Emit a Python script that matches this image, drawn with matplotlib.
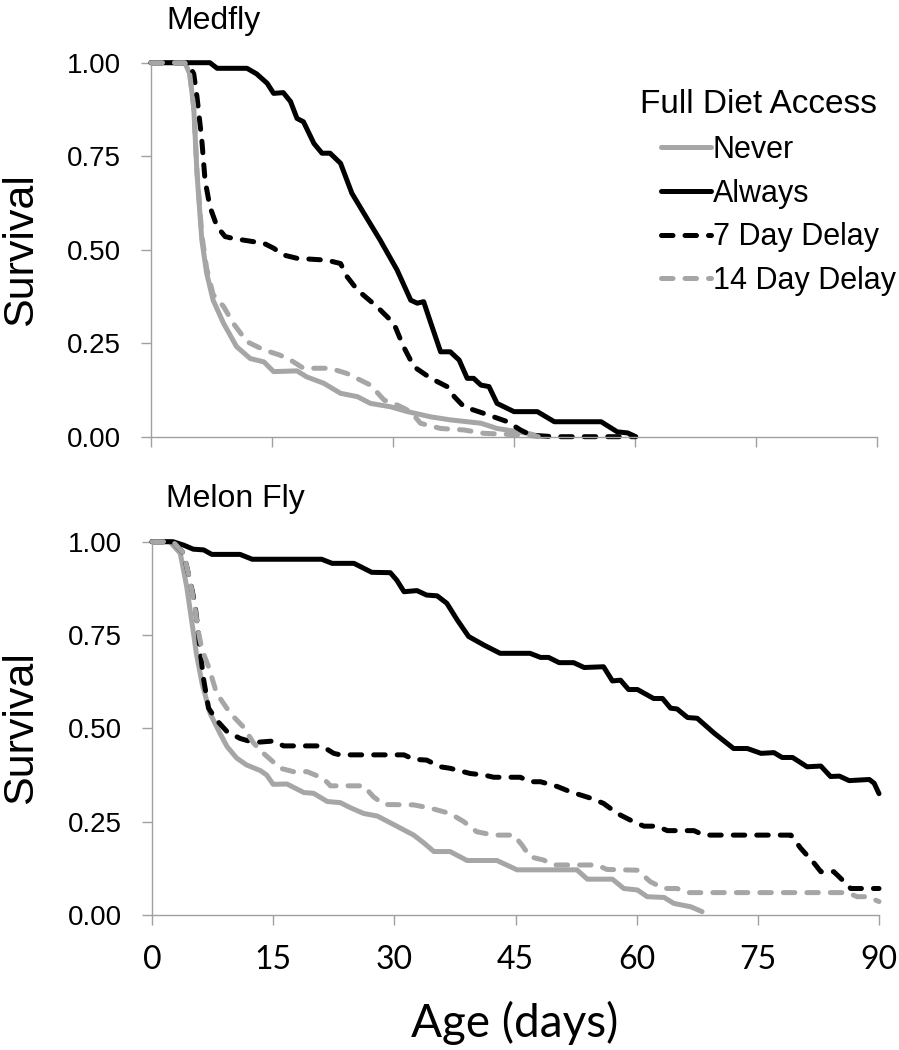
import matplotlib
matplotlib.use('Agg')
import matplotlib.pyplot as plt

# --- data ---
# Medfly
med_always_days = [0, 7.3, 8.2, 11.9, 13.1, 14.4, 15.2, 16.4, 17.3, 18.1, 18.9, 20.2, 21.2, 22.2, 23.5, 24.9,
                   26.4, 28.4, 30.5, 32.2, 33.0, 33.8, 34.7, 35.9, 37.1, 38.2, 39.2, 40.0, 40.9, 41.9, 42.9,
                   45.0, 47.9, 50.0, 55.8, 57.8, 59.1, 60.1]
med_always_surv = [1.0, 1.0, 0.985, 0.985, 0.97, 0.945, 0.918, 0.92, 0.896, 0.851, 0.842, 0.784, 0.758, 0.758,
                   0.731, 0.651, 0.597, 0.526, 0.446, 0.365, 0.357, 0.361, 0.303, 0.227, 0.227, 0.205, 0.156,
                   0.156, 0.138, 0.134, 0.089, 0.067, 0.067, 0.04, 0.04, 0.013, 0.01, 0.0]

med_d7_days = [0, 4.6, 5.3, 5.7, 6.3, 6.7, 7.3, 8.2, 9.2, 10.2, 14.0, 15.2, 16.4, 18.1, 21.8, 23.5, 24.3, 25.6,
               28.0, 30.1, 31.3, 32.6, 34.7, 36.7, 37.6, 38.8, 41.3, 44.2, 45.8, 47.1, 50.0, 60.0]
med_d7_surv = [1.0, 1.0, 0.97, 0.909, 0.793, 0.686, 0.615, 0.561, 0.535, 0.53, 0.517, 0.504, 0.486, 0.477,
               0.472, 0.463, 0.428, 0.392, 0.348, 0.303, 0.241, 0.187, 0.156, 0.134, 0.107, 0.080, 0.062,
               0.040, 0.018, 0.004, 0.0, 0.0]

med_never_days = [0, 4.2, 4.8, 5.3, 5.7, 6.3, 6.9, 7.7, 9.0, 10.6, 12.3, 14.0, 15.2, 18.1, 19.3, 21.4, 23.5,
                  25.6, 27.2, 29.7, 31.8, 34.7, 37.1, 40.9, 42.9, 46.7, 47.5]
med_never_surv = [1.0, 1.0, 0.97, 0.88, 0.704, 0.526, 0.437, 0.365, 0.303, 0.241, 0.209, 0.2, 0.174, 0.176,
                  0.16, 0.143, 0.116, 0.107, 0.089, 0.08, 0.067, 0.053, 0.045, 0.036, 0.022, 0.009, 0.005]

med_d14_days = [0, 4.2, 4.8, 5.3, 5.7, 6.3, 6.9, 7.7, 9.0, 10.2, 11.9, 14.0, 16.0, 17.3, 18.9, 22.2, 24.3,
                27.2, 28.9, 30.5, 32.2, 33.4, 35.9, 38.8, 41.3, 46.7, 48.0]
med_d14_surv = [1.0, 1.0, 0.97, 0.88, 0.71, 0.54, 0.45, 0.38, 0.348, 0.303, 0.254, 0.232, 0.218, 0.205,
                0.183, 0.183, 0.169, 0.138, 0.098, 0.085, 0.067, 0.036, 0.022, 0.018, 0.009, 0.004, 0.0]

# Melon fly
mel_always_days = [0, 2.6, 3.9, 5.1, 6.4, 7.4, 10.9, 12.4, 21.0, 22.3, 25.0, 27.2, 29.5, 30.3, 31.2, 32.8,
                   34.0, 35.3, 36.5, 37.8, 39.2, 41.1, 43.1, 46.8, 48.1, 49.1, 50.4, 52.2, 53.5, 55.9, 57.0,
                   58.0, 59.0, 60.1, 62.1, 63.2, 64.2, 65.0, 66.3, 67.5, 69.6, 72.0, 73.7, 75.4, 77.0, 78.0,
                   79.3, 81.1, 82.8, 84.0, 85.1, 86.3, 88.8, 89.4, 90.0]
mel_always_surv = [1.0, 1.0, 0.991, 0.98, 0.978, 0.966, 0.966, 0.953, 0.953, 0.942, 0.942, 0.918, 0.917,
                   0.897, 0.866, 0.869, 0.857, 0.855, 0.835, 0.79, 0.746, 0.723, 0.701, 0.701, 0.69, 0.69,
                   0.676, 0.676, 0.663, 0.665, 0.627, 0.629, 0.604, 0.604, 0.58, 0.58, 0.554, 0.552, 0.529,
                   0.527, 0.487, 0.446, 0.446, 0.433, 0.435, 0.422, 0.422, 0.397, 0.399, 0.371, 0.372, 0.36,
                   0.363, 0.353, 0.325]

mel_d7_days = [0, 2.6, 3.9, 4.7, 5.3, 5.7, 6.0, 6.4, 7.0, 8.0, 9.3, 10.9, 12.6, 15.0, 16.3, 21.0, 22.5, 23.3,
               31.2, 32.4, 34.0, 35.7, 36.9, 39.4, 41.1, 42.3, 45.6, 46.8, 48.1, 50.2, 51.8, 54.3, 55.9,
               57.6, 59.6, 60.9, 62.5, 63.8, 67.1, 68.3, 79.1, 80.3, 82.0, 82.8, 84.4, 85.7, 86.5, 90.0]
mel_d7_surv = [1.0, 1.0, 0.969, 0.897, 0.835, 0.763, 0.70, 0.63, 0.554, 0.522, 0.491, 0.473, 0.462, 0.466,
               0.453, 0.453, 0.433, 0.429, 0.429, 0.417, 0.415, 0.397, 0.393, 0.379, 0.375, 0.369, 0.369,
               0.357, 0.357, 0.344, 0.33, 0.313, 0.299, 0.272, 0.25, 0.238, 0.238, 0.226, 0.226, 0.214,
               0.214, 0.179, 0.138, 0.116, 0.116, 0.089, 0.071, 0.071]

mel_never_days = [0, 2.2, 3.5, 4.3, 4.9, 5.5, 6.2, 7.2, 8.4, 9.3, 10.5, 11.7, 13.4, 14.2, 15.0, 16.7, 18.8,
                  20.0, 21.7, 23.3, 24.5, 26.2, 27.9, 30.3, 32.4, 33.6, 34.9, 36.9, 39.0, 42.7, 45.2, 52.6,
                  53.9, 57.0, 58.4, 60.1, 61.3, 63.4, 64.6, 66.7, 68.1]
mel_never_surv = [1.0, 1.0, 0.969, 0.879, 0.79, 0.70, 0.62, 0.54, 0.487, 0.451, 0.42, 0.402, 0.387, 0.375,
                  0.35, 0.351, 0.328, 0.326, 0.304, 0.301, 0.288, 0.272, 0.265, 0.238, 0.214, 0.194, 0.17,
                  0.17, 0.146, 0.146, 0.121, 0.121, 0.096, 0.096, 0.071, 0.067, 0.049, 0.047, 0.031, 0.022,
                  0.009]

mel_d14_days = [0, 2.6, 3.9, 4.7, 5.3, 5.7, 6.2, 7.0, 8.0, 9.7, 11.3, 12.6, 13.8, 15.9, 17.5, 19.2, 21.2,
                22.1, 26.2, 27.4, 28.7, 32.4, 34.5, 36.9, 38.6, 40.2, 42.3, 44.8, 45.8, 46.8, 48.5, 49.7,
                55.1, 56.3, 60.1, 61.7, 63.4, 65.0, 66.3, 86.1, 87.3, 88.6, 90.0]
mel_d14_surv = [1.0, 1.0, 0.969, 0.897, 0.826, 0.763, 0.71, 0.665, 0.594, 0.54, 0.504, 0.46, 0.433, 0.393,
                0.384, 0.384, 0.366, 0.346, 0.346, 0.317, 0.296, 0.295, 0.286, 0.272, 0.25, 0.223, 0.214,
                0.214, 0.1875, 0.156, 0.147, 0.134, 0.134, 0.122, 0.12, 0.089, 0.071, 0.071, 0.06, 0.06,
                0.049, 0.049, 0.036]

labels = ['Never', 'Always', '7 Day Delay', '14 Day Delay']
x_ticks = [0, 15, 30, 45, 60, 75, 90]
y_ticks = [0.0, 0.25, 0.5, 0.75, 1.0]
y_tick_labels = ['0.00', '0.25', '0.50', '0.75', '1.00']

GRAY = '#a6a6a6'
AXIS = '#a0a0a0'
LW = 3.6
DASH = (0, (2.3, 2.4))
styles = [dict(color=GRAY, ls='-'), dict(color='black', ls='-'),
          dict(color='black', ls=DASH), dict(color=GRAY, ls=DASH)]

fig = plt.figure(figsize=(8.99, 10.5), dpi=100)
ax1 = fig.add_axes([151 / 899, 1 - 436.7 / 1050, 726 / 899, 374 / 1050])
ax2 = fig.add_axes([152 / 899, 1 - 915 / 1050, 727 / 899, 373.3 / 1050])

top = [(med_never_days, med_never_surv), (med_always_days, med_always_surv),
       (med_d7_days, med_d7_surv), (med_d14_days, med_d14_surv)]
bot = [(mel_never_days, mel_never_surv), (mel_always_days, mel_always_surv),
       (mel_d7_days, mel_d7_surv), (mel_d14_days, mel_d14_surv)]

for ax, series in [(ax1, top), (ax2, bot)]:
    for (d, s), st, lab in zip(series, styles, labels):
        ax.plot(d, s, color=st['color'], linestyle=st['ls'], lw=LW, label=lab,
                solid_capstyle='round', dash_capstyle='round', solid_joinstyle='round', clip_on=False)
    ax.set_xlim(0, 90)
    ax.set_ylim(0, 1)
    ax.set_xticks(x_ticks)
    ax.set_yticks(y_ticks)
    ax.set_yticklabels(y_tick_labels, family='Liberation Sans', fontsize=20)
    for side in ['top', 'right']:
        ax.spines[side].set_visible(False)
    for side in ['left', 'bottom']:
        ax.spines[side].set_color(AXIS)
        ax.spines[side].set_linewidth(1.0)
    ax.tick_params(axis='both', direction='out', length=7.5, width=1.0, color=AXIS)
    ax.tick_params(axis='y', pad=14)
    ax.tick_params(axis='x', pad=14)

ax1.set_xticklabels([])
ax2.set_xticklabels([str(t) for t in x_ticks], family='Lato', fontsize=23)

fig.text(166 / 899, 1 - 29 / 1050, 'Medfly', family='Liberation Sans', fontsize=23, va='baseline')
fig.text(166 / 899, 1 - 507 / 1050, 'Melon Fly', family='Liberation Sans', fontsize=23, va='baseline')
fig.text(21 / 899, 1 - 250 / 1050, 'Survival', family='Liberation Sans', fontsize=31,
         rotation=90, ha='center', va='center')
fig.text(21 / 899, 1 - 728 / 1050, 'Survival', family='Liberation Sans', fontsize=31,
         rotation=90, ha='center', va='center')
fig.text(515 / 899, 1 - 1037 / 1050, 'Age (days)', family='Lato', fontsize=33, ha='center', va='baseline')

# legend title drawn separately so it can sit left of the handles
fig.text(640 / 899, 1 - 113 / 1050, 'Full Diet Access', family='Liberation Sans', fontsize=24, va='baseline')
ax1.legend(loc='upper left', bbox_to_anchor=(0.702, 0.807), frameon=False,
           prop={'family': 'Liberation Sans', 'size': 22},
           handlelength=1.65, handletextpad=0.05, labelspacing=0.45, borderpad=0, borderaxespad=0)

fig.savefig('out.png', dpi=100)
